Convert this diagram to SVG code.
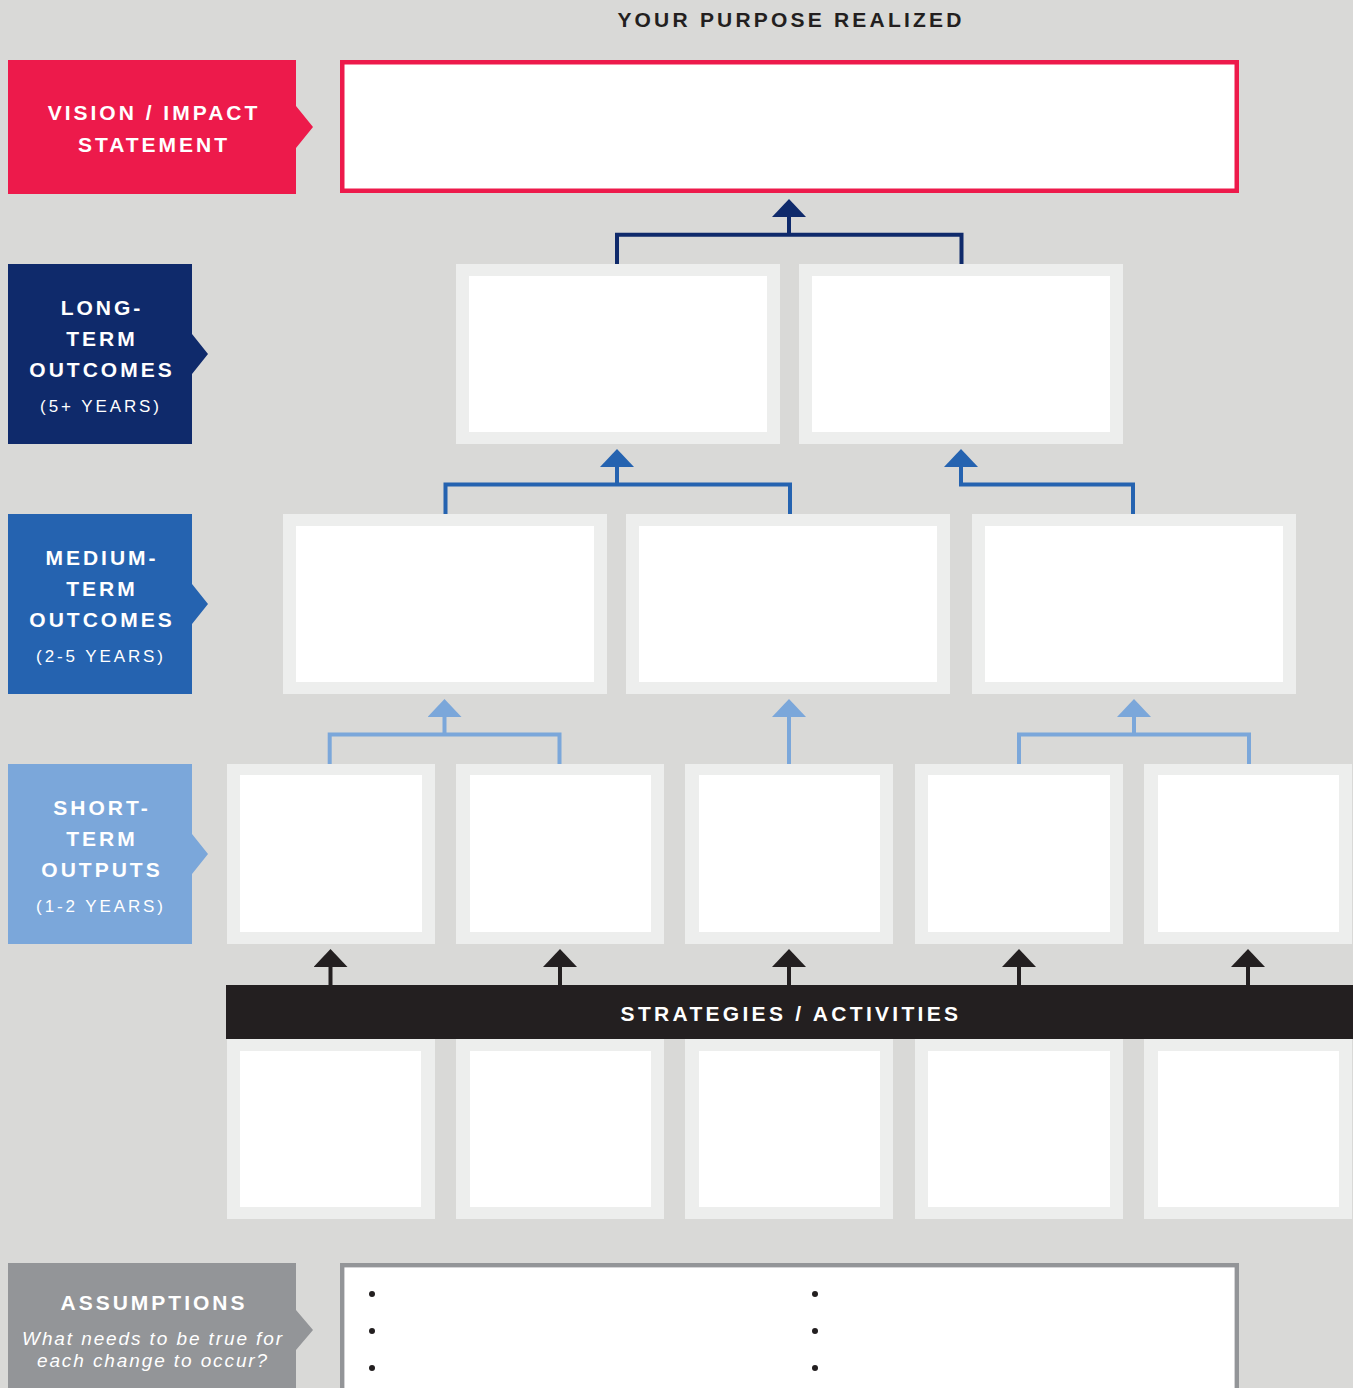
<svg xmlns="http://www.w3.org/2000/svg" width="1353" height="1388" viewBox="0 0 1353 1388">
<style>
.lbl{font-family:"Liberation Sans",Arial,sans-serif;font-weight:bold;font-size:21px;letter-spacing:3px;fill:#ffffff;text-anchor:middle}
.yrs{font-family:"Liberation Sans",Arial,sans-serif;font-size:17px;letter-spacing:2.9px;fill:#ffffff;text-anchor:middle}
.note{font-family:"Liberation Sans",Arial,sans-serif;font-style:italic;font-size:19px;letter-spacing:1.9px;fill:#ffffff;text-anchor:middle}
.box{fill:#edeeed}
.inner{fill:#ffffff}
.conn{fill:none;stroke-width:4}
</style>
<defs>
<marker id="hNavy" markerUnits="userSpaceOnUse" viewBox="0 0 18 34" markerWidth="18" markerHeight="34" refX="0" refY="17" orient="auto"><path d="M0,0 L18,17 L0,34 z" fill="#0f2a6b"/></marker>
<marker id="hBlue" markerUnits="userSpaceOnUse" viewBox="0 0 18 34" markerWidth="18" markerHeight="34" refX="0" refY="17" orient="auto"><path d="M0,0 L18,17 L0,34 z" fill="#2563b0"/></marker>
<marker id="hLight" markerUnits="userSpaceOnUse" viewBox="0 0 18 34" markerWidth="18" markerHeight="34" refX="0" refY="17" orient="auto"><path d="M0,0 L18,17 L0,34 z" fill="#7ba7da"/></marker>
<marker id="hBlack" markerUnits="userSpaceOnUse" viewBox="0 0 18 34" markerWidth="18" markerHeight="34" refX="0" refY="17" orient="auto"><path d="M0,0 L18,17 L0,34 z" fill="#231f20"/></marker>
</defs>
<rect width="1353" height="1388" fill="#d9d9d7"/>

<text x="791" y="27" font-family="'Liberation Sans',Arial,sans-serif" font-weight="bold" font-size="21" letter-spacing="3.2" fill="#231f20" text-anchor="middle">YOUR PURPOSE REALIZED</text>

<!-- Left labels -->
<g id="label-vision">
<path d="M8,60 H296 V106 L313,127 L296,148 V194 H8 z" fill="#ed1a4b"/>
<text class="lbl" x="154" y="120">VISION / IMPACT</text>
<text class="lbl" x="154" y="152">STATEMENT</text>
</g>
<g id="label-long">
<path d="M8,264 H192 V334 L208,354 L192,374 V444 H8 z" fill="#0f2a6b"/>
<text class="lbl" x="102" y="315">LONG-</text>
<text class="lbl" x="102" y="346">TERM</text>
<text class="lbl" x="102" y="377">OUTCOMES</text>
<text class="yrs" x="101" y="412">(5+ YEARS)</text>
</g>
<g id="label-medium">
<path d="M8,514 H192 V584 L208,604 L192,624 V694 H8 z" fill="#2563b0"/>
<text class="lbl" x="102" y="565">MEDIUM-</text>
<text class="lbl" x="102" y="596">TERM</text>
<text class="lbl" x="102" y="627">OUTCOMES</text>
<text class="yrs" x="101" y="662">(2-5 YEARS)</text>
</g>
<g id="label-short">
<path d="M8,764 H192 V834 L208,854 L192,874 V944 H8 z" fill="#7ba7da"/>
<text class="lbl" x="102" y="815">SHORT-</text>
<text class="lbl" x="102" y="846">TERM</text>
<text class="lbl" x="102" y="877">OUTPUTS</text>
<text class="yrs" x="101" y="912">(1-2 YEARS)</text>
</g>
<g id="label-assumptions">
<path d="M8,1263 H296 V1310 L313,1330 L296,1350 V1388 H8 z" fill="#939598"/>
<text class="lbl" x="154" y="1310">ASSUMPTIONS</text>
<text class="note" x="153" y="1345">What needs to be true for</text>
<text class="note" x="153" y="1367">each change to occur?</text>
</g>

<!-- Vision box -->
<g id="vision-box">
<rect x="342.25" y="62.25" width="894.5" height="128.5" fill="#ffffff" stroke="#ed1a4b" stroke-width="4.5"/>
</g>

<!-- Long-term outcome boxes -->
<g id="long-1"><rect class="box" x="456" y="264" width="324" height="180"/><rect class="inner" x="469" y="276" width="298" height="156"/></g>
<g id="long-2"><rect class="box" x="799" y="264" width="324" height="180"/><rect class="inner" x="812" y="276" width="298" height="156"/></g>

<!-- Medium-term outcome boxes -->
<g id="medium-1"><rect class="box" x="283" y="514" width="324" height="180"/><rect class="inner" x="296" y="526" width="298" height="156"/></g>
<g id="medium-2"><rect class="box" x="626" y="514" width="324" height="180"/><rect class="inner" x="639" y="526" width="298" height="156"/></g>
<g id="medium-3"><rect class="box" x="972" y="514" width="324" height="180"/><rect class="inner" x="985" y="526" width="298" height="156"/></g>

<!-- Short-term output boxes -->
<g id="short-1"><rect class="box" x="227" y="764" width="208" height="180"/><rect class="inner" x="240" y="775" width="182" height="157"/></g>
<g id="short-2"><rect class="box" x="456" y="764" width="208" height="180"/><rect class="inner" x="470" y="775" width="181" height="157"/></g>
<g id="short-3"><rect class="box" x="685" y="764" width="208" height="180"/><rect class="inner" x="699" y="775" width="181" height="157"/></g>
<g id="short-4"><rect class="box" x="915" y="764" width="208" height="180"/><rect class="inner" x="928" y="775" width="182" height="157"/></g>
<g id="short-5"><rect class="box" x="1144" y="764" width="208" height="180"/><rect class="inner" x="1158" y="775" width="181" height="157"/></g>

<!-- Strategies bar -->
<g id="strategies-bar">
<rect x="226" y="985" width="1127" height="54" fill="#231f20"/>
<text x="791" y="1021" font-family="'Liberation Sans',Arial,sans-serif" font-weight="bold" font-size="21" letter-spacing="3.3" fill="#ffffff" text-anchor="middle">STRATEGIES / ACTIVITIES</text>
</g>

<!-- Strategy boxes -->
<g id="strategy-1"><rect class="box" x="227" y="1039" width="208" height="180"/><rect class="inner" x="240" y="1051" width="181" height="156"/></g>
<g id="strategy-2"><rect class="box" x="456" y="1039" width="208" height="180"/><rect class="inner" x="470" y="1051" width="181" height="156"/></g>
<g id="strategy-3"><rect class="box" x="685" y="1039" width="208" height="180"/><rect class="inner" x="699" y="1051" width="181" height="156"/></g>
<g id="strategy-4"><rect class="box" x="915" y="1039" width="208" height="180"/><rect class="inner" x="928" y="1051" width="182" height="156"/></g>
<g id="strategy-5"><rect class="box" x="1144" y="1039" width="208" height="180"/><rect class="inner" x="1158" y="1051" width="181" height="156"/></g>

<!-- Assumptions box -->
<g id="assumptions-box">
<rect x="342.2" y="1265.2" width="894.6" height="200" fill="#ffffff" stroke="#939598" stroke-width="4.4"/>
<g fill="#231f20">
<circle cx="372" cy="1294" r="3"/><circle cx="372" cy="1331" r="3"/><circle cx="372" cy="1368" r="3"/>
<circle cx="815" cy="1294" r="3"/><circle cx="815" cy="1331" r="3"/><circle cx="815" cy="1368" r="3"/>
</g>
</g>

<!-- Connectors -->
<g id="connectors">
<path class="conn" stroke="#0f2a6b" d="M617,264 V234.7 H961.5 V264"/>
<path class="conn" stroke="#0f2a6b" d="M789,234.7 V217" marker-end="url(#hNavy)"/>

<path class="conn" stroke="#2563b0" d="M445.5,514 V484.5 H790 V514"/>
<path class="conn" stroke="#2563b0" d="M617,484.5 V467" marker-end="url(#hBlue)"/>
<path class="conn" stroke="#2563b0" d="M1133,514 V484.5 H961 V467" marker-end="url(#hBlue)"/>

<path class="conn" stroke="#7ba7da" d="M329.7,764 V734.5 H559.5 V764"/>
<path class="conn" stroke="#7ba7da" d="M444.5,734.5 V717" marker-end="url(#hLight)"/>
<path class="conn" stroke="#7ba7da" d="M789,764 V717" marker-end="url(#hLight)"/>
<path class="conn" stroke="#7ba7da" d="M1019,764 V734.5 H1249 V764"/>
<path class="conn" stroke="#7ba7da" d="M1134,734.5 V717" marker-end="url(#hLight)"/>

<path class="conn" stroke="#231f20" d="M330.5,985 V967" marker-end="url(#hBlack)"/>
<path class="conn" stroke="#231f20" d="M560,985 V967" marker-end="url(#hBlack)"/>
<path class="conn" stroke="#231f20" d="M789,985 V967" marker-end="url(#hBlack)"/>
<path class="conn" stroke="#231f20" d="M1019,985 V967" marker-end="url(#hBlack)"/>
<path class="conn" stroke="#231f20" d="M1248,985 V967" marker-end="url(#hBlack)"/>
</g>
</svg>
